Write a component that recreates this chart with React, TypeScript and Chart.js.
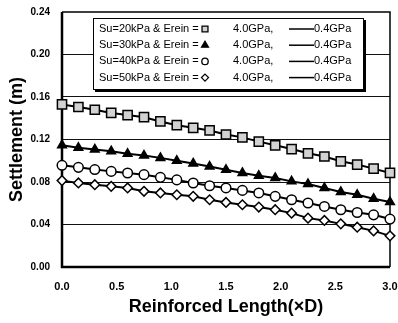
import React, { useEffect, useRef } from 'react';
import { Chart, registerables } from 'chart.js';

Chart.register(...registerables);

// Reinforced length (×D)
const lengths = [0.0, 0.15, 0.3, 0.45, 0.6, 0.75, 0.9, 1.05, 1.2, 1.35, 1.5, 1.65, 1.8, 1.95, 2.1, 2.25, 2.4, 2.55, 2.7, 2.85, 3.0];

// Settlement (m)
const su20 = [0.153, 0.1506, 0.148, 0.145, 0.143, 0.141, 0.137, 0.1335, 0.131, 0.1285, 0.1247, 0.122, 0.118, 0.1145, 0.111, 0.107, 0.104, 0.0995, 0.0964, 0.0926, 0.0885];
const su30 = [0.1146, 0.1122, 0.1106, 0.109, 0.1065, 0.1049, 0.1027, 0.1, 0.0975, 0.0945, 0.0915, 0.0885, 0.0858, 0.0838, 0.0806, 0.0781, 0.0744, 0.0706, 0.068, 0.0643, 0.0611];
const su40 = [0.0957, 0.0938, 0.0917, 0.09, 0.0885, 0.0869, 0.0844, 0.082, 0.0791, 0.0765, 0.0744, 0.0721, 0.0697, 0.0665, 0.0633, 0.0602, 0.057, 0.0539, 0.0513, 0.0491, 0.0451];
const su50 = [0.0813, 0.0791, 0.0775, 0.0759, 0.0744, 0.0712, 0.0697, 0.068, 0.0665, 0.0633, 0.0608, 0.0586, 0.0564, 0.0539, 0.0507, 0.046, 0.0438, 0.0406, 0.0375, 0.034, 0.0293];

const legendLabels = ['Su=20kPa & Erein =', 'Su=30kPa & Erein =', 'Su=40kPa & Erein =', 'Su=50kPa & Erein ='];
const highModulus = '4.0GPa,';
const lowModulus = '0.4GPa';

const xTitle = 'Reinforced Length(×D)';
const yTitle = 'Settlement (m)';

const FONT = 'Arial, "Liberation Sans", sans-serif';

const markerStyles = [
  { style: 'rect', radius: 6.5, legendRadius: 4.2, fill: '#d2d2d2' },
  { style: 'triangle', radius: 5, legendRadius: 4, fill: '#000' },
  { style: 'circle', radius: 4.8, legendRadius: 3.2, fill: '#fff' },
  { style: 'rectRot', radius: 4.8, legendRadius: 3.5, fill: '#fff' },
];

function drawMarker(ctx: CanvasRenderingContext2D, kind: string, x: number, y: number, r: number, fill: string) {
  ctx.beginPath();
  if (kind === 'rect') {
    const s = Math.SQRT1_2 * r;
    ctx.rect(x - s, y - s, 2 * s, 2 * s);
  } else if (kind === 'triangle') {
    ctx.moveTo(x, y - r);
    ctx.lineTo(x + r * 0.866, y + r / 2);
    ctx.lineTo(x - r * 0.866, y + r / 2);
    ctx.closePath();
  } else if (kind === 'circle') {
    ctx.arc(x, y, r, 0, Math.PI * 2);
  } else {
    ctx.moveTo(x, y - r);
    ctx.lineTo(x + r, y);
    ctx.lineTo(x, y + r);
    ctx.lineTo(x - r, y);
    ctx.closePath();
  }
  ctx.fillStyle = fill;
  ctx.fill();
  ctx.lineWidth = 1.3;
  ctx.strokeStyle = '#000';
  ctx.stroke();
}

const framePlugin = {
  id: 'frame',
  beforeDatasetsDraw(chart: any) {
    const { ctx, chartArea: a } = chart;
    ctx.save();
    ctx.strokeStyle = '#000';
    ctx.lineWidth = 1.5;
    ctx.beginPath();
    ctx.moveTo(a.left, a.top);
    ctx.lineTo(a.right, a.top);
    ctx.lineTo(a.right, a.bottom);
    ctx.stroke();
    ctx.lineWidth = 2.5;
    ctx.beginPath();
    ctx.moveTo(a.left, a.top);
    ctx.lineTo(a.left, a.bottom);
    ctx.lineTo(a.right, a.bottom);
    ctx.stroke();
    ctx.restore();
  },
  afterDraw(chart: any) {
    const { ctx } = chart;
    ctx.save();
    const bx = 93, by = 18, bw = 271, bh = 72;
    ctx.fillStyle = '#000';
    ctx.fillRect(bx + 2, by + 2, bw, bh);
    ctx.fillStyle = '#fff';
    ctx.fillRect(bx, by, bw, bh);
    ctx.strokeStyle = '#000';
    ctx.lineWidth = 1;
    ctx.strokeRect(bx + 0.5, by + 0.5, bw - 1, bh - 1);
    ctx.font = `11px ${FONT}`;
    ctx.textBaseline = 'middle';
    ctx.textAlign = 'left';
    legendLabels.forEach((label, i) => {
      const y = 29 + i * 16.2;
      ctx.fillStyle = '#000';
      ctx.fillText(label, 99, y);
      const m = markerStyles[i];
      drawMarker(ctx, m.style, 205, y, m.legendRadius, m.fill);
      ctx.fillStyle = '#000';
      ctx.fillText(highModulus, 233, y);
      ctx.beginPath();
      ctx.moveTo(289, y);
      ctx.lineTo(314, y);
      ctx.lineWidth = 1.5;
      ctx.strokeStyle = '#000';
      ctx.stroke();
      ctx.fillText(lowModulus, 314, y);
    });
    ctx.restore();
  },
};

export default function App() {
  const ref = useRef<HTMLCanvasElement>(null);
  useEffect(() => {
    document.body.style.margin = '0';
    const series = [su20, su30, su40, su50];
    const chart = new Chart(ref.current!, {
      type: 'line',
      data: {
        datasets: series.map((vals, i) => ({
          label: legendLabels[i] + ' ' + highModulus,
          data: vals.map((v, j) => ({ x: lengths[j], y: v })),
          borderColor: '#000',
          borderWidth: 2,
          pointStyle: markerStyles[i].style as any,
          pointRadius: markerStyles[i].radius,
          pointBackgroundColor: markerStyles[i].fill,
          pointBorderColor: '#000',
          pointBorderWidth: 1.5,
          tension: 0,
          clip: false as any,
        })),
      },
      options: {
        animation: false,
        responsive: false,
        layout: { padding: { top: 12, right: 6, left: 0, bottom: 0 } },
        plugins: { legend: { display: false }, tooltip: { enabled: false } },
        scales: {
          x: {
            type: 'linear',
            min: 0,
            max: 3,
            grid: { display: false, drawTicks: false },
            border: { display: false },
            ticks: {
              stepSize: 0.5,
              padding: 13,
              color: '#000',
              font: { family: FONT, size: 11, weight: 'bold' },
              callback: (v: any) => Number(v).toFixed(1),
              maxRotation: 0,
            },
            title: {
              display: true,
              text: xTitle,
              color: '#000',
              font: { family: FONT, size: 18, weight: 'bold' },
              padding: { top: 0, bottom: 5 },
            },
            afterFit: (s: any) => {
              s.height = 56;
              s.paddingLeft = 0;
              s.paddingRight = 0;
            },
          },
          y: {
            min: 0,
            max: 0.24,
            grid: {
              drawTicks: false,
              color: (c: any) => (c.tick && (c.tick.value <= 0 || c.tick.value >= 0.24) ? 'rgba(0,0,0,0)' : '#111'),
              lineWidth: 1,
            },
            border: { display: false },
            ticks: {
              stepSize: 0.04,
              padding: 12,
              color: '#000',
              font: { family: FONT, size: 10, weight: 'bold' },
              callback: (v: any) => Number(v).toFixed(2),
            },
            title: {
              display: true,
              text: yTitle,
              color: '#000',
              font: { family: FONT, size: 18, weight: 'bold' },
              padding: { top: 6, bottom: 0 },
            },
            afterFit: (s: any) => {
              s.width = 62;
              s.paddingTop = 0;
              s.paddingBottom = 0;
            },
          },
        },
      },
      plugins: [framePlugin],
    });
    return () => chart.destroy();
  }, []);
  return (
    <div style={{ width: 398, height: 323 }}>
      <canvas ref={ref} width={398} height={323} />
    </div>
  );
}
